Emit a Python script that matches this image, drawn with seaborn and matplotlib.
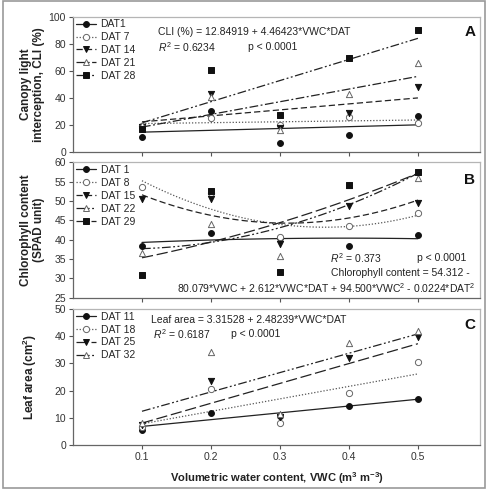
import numpy as np
import pandas as pd
import matplotlib
matplotlib.use('Agg')
import matplotlib.pyplot as plt
from matplotlib.lines import Line2D
from matplotlib.patches import Rectangle
import seaborn as sns

# ---- data ----
vwc = [0.1, 0.2, 0.3, 0.4, 0.5]

# A: canopy light interception (%)
cli_labels = ['DAT1', 'DAT 7', 'DAT 14', 'DAT 21', 'DAT 28']
cli_dat1 = [11.0, 30.3, 6.4, 12.6, 26.6]
cli_dat7 = [19.0, 24.9, 20.0, 26.1, 21.7]
cli_dat14 = [18.7, 42.6, 18.0, 28.6, 47.8]
cli_dat21 = [20.0, 40.9, 16.3, 42.6, 66.0]
cli_dat28 = [16.7, 60.6, 27.1, 69.2, 90.4]

# B: chlorophyll content (SPAD)
spad_labels = ['DAT 1', 'DAT 8', 'DAT 15', 'DAT 22', 'DAT 29']
spad_dat1 = [38.4, 41.6, 40.5, 38.4, 41.2]
spad_dat8 = [53.7, 52.0, 40.8, 43.5, 46.8]
spad_dat15 = [50.4, 50.5, 38.8, 48.7, 49.6]
spad_dat22 = [36.5, 44.1, 35.8, 54.0, 55.9]
spad_dat29 = [30.8, 52.7, 31.6, 54.1, 57.4]

# C: leaf area (cm2)
leaf_labels = ['DAT 11', 'DAT 18', 'DAT 25', 'DAT 32']
leaf_dat11 = [5.5, 11.9, 10.6, 14.3, 16.8]
leaf_dat18 = [6.7, 20.5, 8.2, 19.0, 30.4]
leaf_dat25 = [7.4, 23.7, 10.4, 31.9, 39.8]
leaf_dat32 = [8.0, 34.3, 11.4, 37.4, 42.0]

# ---- styles ----
sns.set_style('ticks')
plt.rcParams['font.family'] = ['Liberation Sans', 'DejaVu Sans']
plt.rcParams['mathtext.fontset'] = 'custom'
plt.rcParams['mathtext.rm'] = 'Liberation Sans'
plt.rcParams['mathtext.it'] = 'Liberation Sans:italic'
plt.rcParams['mathtext.bf'] = 'Liberation Sans:bold'

SOLID = '-'
DOT = (0, (1, 1.5))
DASH = (0, (5, 2.5))
DASHDOT = (0, (7, 2, 1.5, 2))
DASHDOTDOT = (0, (7, 2, 1.5, 2, 1.5, 2))
LONGDASH = (0, (9, 3))

FILL = '#111111'
OPEN_EDGE = '#666666'
LINE = '#222222'

mk_filled_circle = dict(marker='o', fc=FILL, ec=FILL, s=18)
mk_open_circle = dict(marker='o', fc='white', ec=OPEN_EDGE, s=20)
mk_filled_tri = dict(marker='v', fc=FILL, ec=FILL, s=20)
mk_open_tri = dict(marker='^', fc='white', ec=OPEN_EDGE, s=20)
mk_square = dict(marker='s', fc=FILL, ec=FILL, s=15)

fig = plt.figure(figsize=(4.88, 4.91), dpi=100)
axA = fig.add_axes([0.1496, 0.6904, 0.834, 0.2756])
axB = fig.add_axes([0.1496, 0.3937, 0.834, 0.2758])
axC = fig.add_axes([0.1496, 0.0937, 0.834, 0.2770])


def draw(ax, ys, labels, markers, styles, order):
    handles = []
    for y, lab, mk, ls in zip(ys, labels, markers, styles):
        df = pd.DataFrame({'x': vwc, 'y': y})
        lc = '#555555' if ls == DOT else LINE
        sns.regplot(data=df, x='x', y='y', ax=ax, ci=None, order=order,
                    color=LINE, marker=mk['marker'],
                    scatter_kws=dict(s=mk['s'], facecolor=mk['fc'],
                                     edgecolor=mk['ec'], linewidths=0.7,
                                     alpha=1, zorder=3),
                    line_kws=dict(color=lc, linestyle=ls, linewidth=0.9))
        handles.append(Line2D([], [], color=lc, linestyle=ls, linewidth=0.9,
                              marker=mk['marker'], markersize=np.sqrt(mk['s']),
                              markerfacecolor=mk['fc'], markeredgecolor=mk['ec'],
                              markeredgewidth=0.7))
    ax.legend(handles, labels, loc='upper left', bbox_to_anchor=(0.0, 1.0),
              frameon=False, fontsize=7.5, handlelength=2.0,
              handletextpad=0.4, labelspacing=0.28, borderpad=0.25,
              borderaxespad=0.0)


draw(axA, [cli_dat1, cli_dat7, cli_dat14, cli_dat21, cli_dat28], cli_labels,
     [mk_filled_circle, mk_open_circle, mk_filled_tri, mk_open_tri, mk_square],
     [SOLID, DOT, DASH, DASHDOT, DASHDOTDOT], 1)
draw(axB, [spad_dat1, spad_dat8, spad_dat15, spad_dat22, spad_dat29], spad_labels,
     [mk_filled_circle, mk_open_circle, mk_filled_tri, mk_open_tri, mk_square],
     [SOLID, DOT, DASH, DASHDOTDOT, LONGDASH], 2)
draw(axC, [leaf_dat11, leaf_dat18, leaf_dat25, leaf_dat32], leaf_labels,
     [mk_filled_circle, mk_open_circle, mk_filled_tri, mk_open_tri],
     [SOLID, DOT, LONGDASH, DASHDOTDOT], 1)

xticks = [0.1, 0.2, 0.3, 0.4, 0.5]
for ax, ylim, yticks in [(axA, (0, 100), np.arange(0, 101, 20)),
                         (axB, (25, 60), np.arange(25, 61, 5)),
                         (axC, (0, 50), np.arange(0, 51, 10))]:
    ax.set_xlim(0.0, 0.59)
    ax.set_ylim(*ylim)
    ax.set_yticks(yticks)
    ax.set_xticks(xticks)
    ax.set_xlabel('')
    ax.set_ylabel('')
    ax.tick_params(direction='out', length=3, width=0.8, colors='#555555',
                   labelcolor='#333333', labelsize=7.5, pad=2)
    for side in ['left', 'bottom']:
        ax.spines[side].set_color('#666666')
        ax.spines[side].set_linewidth(0.9)
    for side in ['top', 'right']:
        ax.spines[side].set_visible(True)
        ax.spines[side].set_color('#b5b5b5')
        ax.spines[side].set_linewidth(0.9)

axA.set_xticklabels([])
axB.set_xticklabels([])
axC.set_xticklabels(['0.1', '0.2', '0.3', '0.4', '0.5'])

lab_kw = dict(fontsize=8.5, fontweight='bold', color='#222222')
axA.set_ylabel('Canopy light\ninterception, CLI (%)', linespacing=1.1, **lab_kw)
axB.set_ylabel('Chlorophyll content\n(SPAD unit)', linespacing=1.1, **lab_kw)
axC.set_ylabel(r'Leaf area (cm$^\mathbf{2}$)', **lab_kw)
axA.yaxis.set_label_coords(-0.07, 0.5)
axB.yaxis.set_label_coords(-0.07, 0.5)
axC.yaxis.set_label_coords(-0.083, 0.5)
axC.set_xlabel(r'Volumetric water content, VWC (m$^\mathbf{3}$ m$^\mathbf{-3}$)',
               labelpad=6, fontsize=8, fontweight='bold', color='#222222')

txt = dict(fontsize=7.5, color='#222222', va='center')
axA.text(0.209, 0.889, 'CLI (%) = 12.84919 + 4.46423*VWC*DAT', transform=axA.transAxes, **txt)
axA.text(0.209, 0.778, r'$\mathit{R}^2$ = 0.6234', transform=axA.transAxes, **txt)
axA.text(0.43, 0.778, 'p < 0.0001', transform=axA.transAxes, **txt)

axB.text(0.631, 0.291, r'$\mathit{R}^2$ = 0.373', transform=axB.transAxes, **txt)
axB.text(0.845, 0.291, 'p < 0.0001', transform=axB.transAxes, **txt)
axB.text(0.975, 0.180, 'Chlorophyll content = 54.312 -', transform=axB.transAxes,
         ha='right', **txt)
axB.text(0.99, 0.074, r'80.079*VWC + 2.612*VWC*DAT + 94.500*VWC$^2$ - 0.0224*DAT$^2$',
         transform=axB.transAxes, ha='right', **txt)

axC.text(0.192, 0.919, 'Leaf area = 3.31528 + 2.48239*VWC*DAT', transform=axC.transAxes, **txt)
axC.text(0.197, 0.814, r'$\mathit{R}^2$ = 0.6187', transform=axC.transAxes, **txt)
axC.text(0.388, 0.814, 'p < 0.0001', transform=axC.transAxes, **txt)

for ax, letter, yy in [(axA, 'A', 0.887), (axB, 'B', 0.869), (axC, 'C', 0.882)]:
    ax.text(0.975, yy, letter, transform=ax.transAxes, ha='center', va='center',
            fontsize=11, fontweight='bold', color='#111111')

fig.patches.append(Rectangle((2.7 / 488, 3 / 491), 482 / 488, 487 / 491,
                             transform=fig.transFigure, fill=False,
                             edgecolor='#999999', linewidth=1.2))

fig.savefig('out.png', dpi=100)
